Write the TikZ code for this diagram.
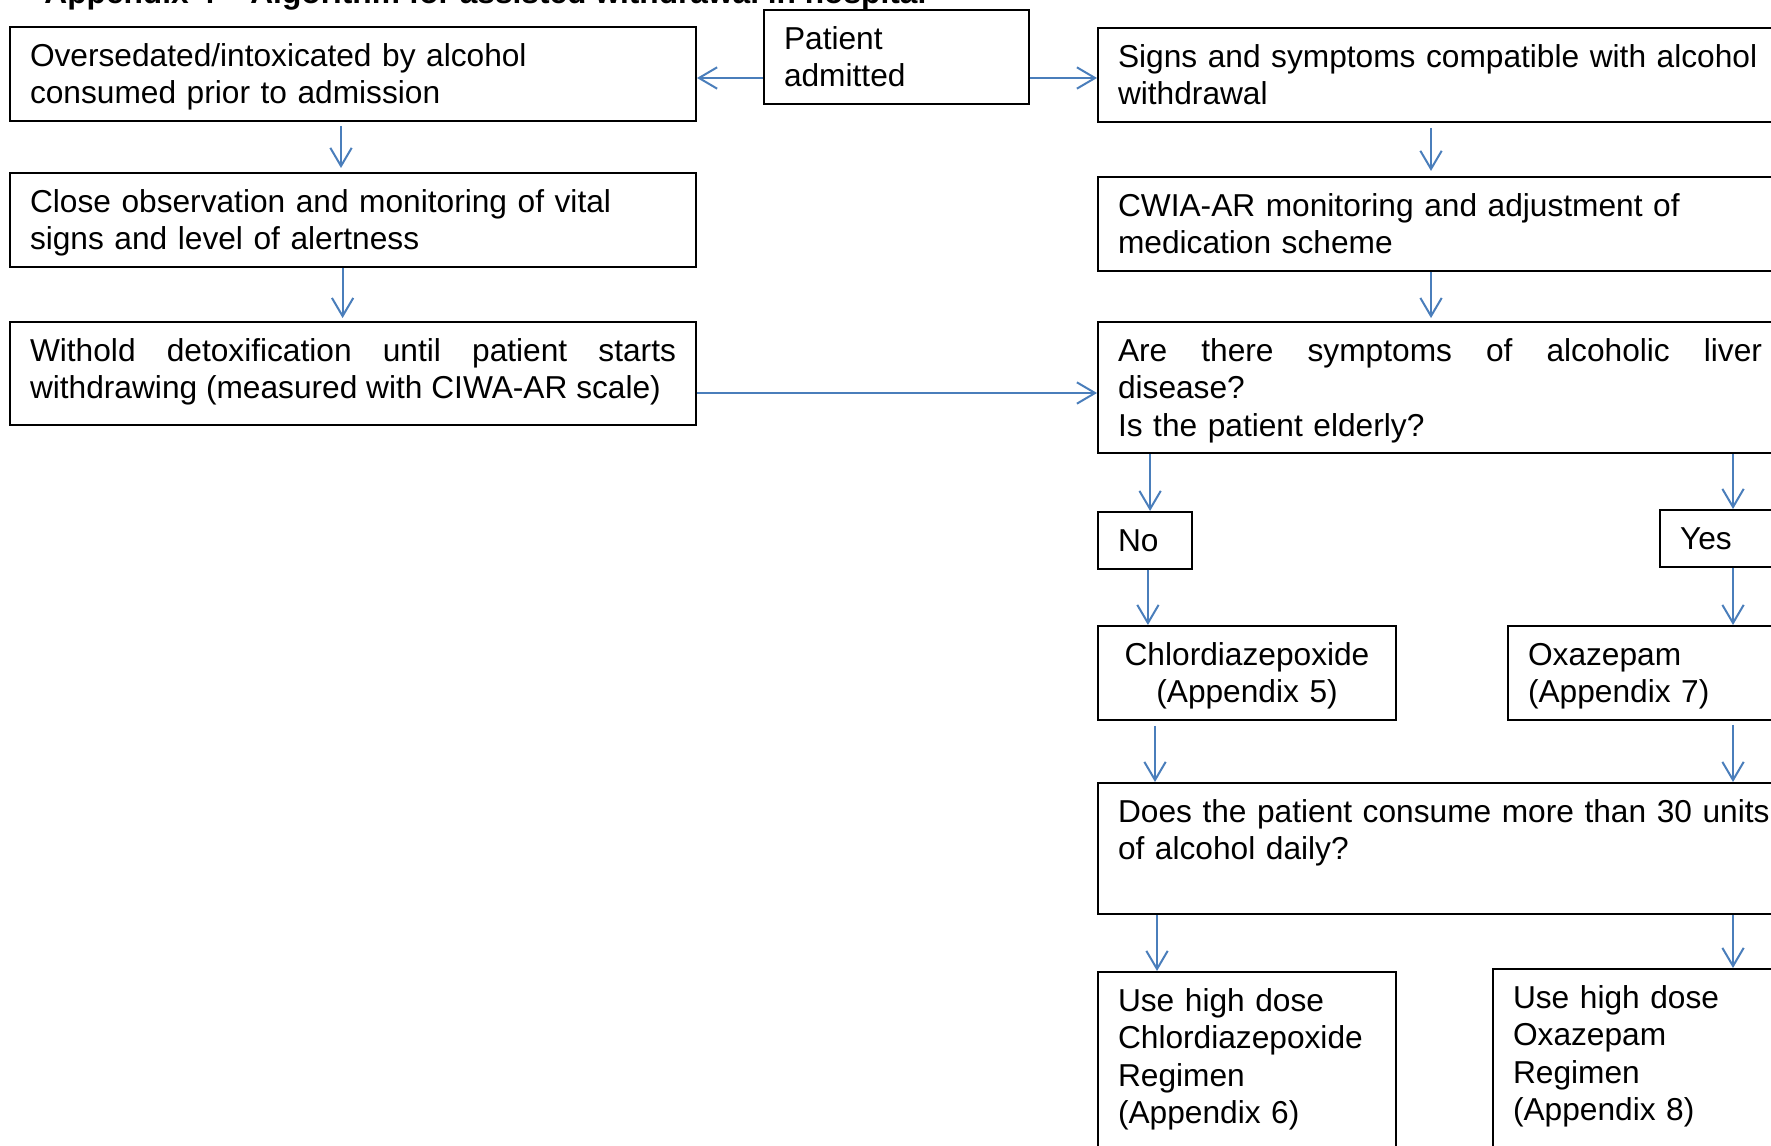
\documentclass[tikz,border=0pt]{standalone}
\usepackage{fontspec}
\setmainfont{Liberation Sans}
\usetikzlibrary{arrows.meta}
\definecolor{flowblue}{RGB}{74,126,187}
\newcommand{\wstrut}{\rule[-2.54pt]{0pt}{13.4pt}}
\hyphenpenalty=10000 \exhyphenpenalty=10000 \tolerance=10000 \hbadness=10000 \hfuzz=50pt
\begin{document}
\begin{tikzpicture}[x=0.375pt, y=-0.375pt,
	box/.style={draw=black, line width=0.75pt, anchor=north west, inner xsep=7.5pt, inner ysep=3.9pt, align=left, text width=242.25pt, font=\fontsize{11.88pt}{14pt}\selectfont, execute at begin node=\wstrut, execute at end node=\wstrut},
	wide/.style={box, text width=244pt},
	narrow/.style={box, text width=96.75pt},
	arr/.style={draw=flowblue, line width=0.75pt, -{Straight Barb[length=6.8pt, width=8pt]}}]
	\useasboundingbox (0,0) rectangle (1771,1146);
	\clip (0,0) rectangle (1771,1146);
	\node[anchor=base west, font=\fontsize{11.88pt}{14pt}\selectfont\bfseries] (title) at (35,3.5) {Appendix 4 -- Algorithm for assisted withdrawal in hospital};
	
	\node[box, text width=84.4pt] (pat) at (763,9) {Patient\\admitted};
	\node[box] (over) at (9,26) {Oversedated/intoxicated by alcohol\\consumed prior to admission};
	\node[box] (close) at (9,172) {Close observation and monitoring of vital\\signs and level of alertness};
	\node[box, align=justify] (wit) at (9,321) {Withold detoxification until patient starts withdrawing (measured with CIWA-AR scale)\rule[-6pt]{0pt}{1pt}};
	
	\node[wide] (sign) at (1097,27) {Signs and symptoms compatible with alcohol\\withdrawal};
	\node[wide] (cwia) at (1097,176) {CWIA-AR monitoring and adjustment of\\medication scheme};
	\node[wide] (are) at (1097,321) {\hbox to 241.5pt{Are\hfill there\hfill symptoms\hfill of\hfill alcoholic\hfill liver}\\disease?\\Is the patient elderly?};
	\node[box, text width=20.25pt] (no) at (1097,511) {No};
	\node[box, text width=35pt] (yes) at (1659,509) {Yes};
	\node[narrow, align=center] (chlor) at (1097,625) {Chlordiazepoxide\\(Appendix 5)};
	\node[narrow] (oxa) at (1507,625) {Oxazepam\\(Appendix 7)};
	\node[wide, text width=262pt] (does) at (1097,782) {Does the patient consume more than 30 units\\of alcohol daily?\\\mbox{}};
	\node[narrow] (usec) at (1097,971) {Use high dose\\Chlordiazepoxide\\Regimen\\(Appendix 6)\\\mbox{}\\\mbox{}};
	\node[narrow] (useo) at (1492,968) {Use high dose\\Oxazepam\\Regimen\\(Appendix 8)\\\mbox{}\\\mbox{}};
	
	\draw[arr] ([yshift=-7.9pt]pat.west) -- ([yshift=-7.9pt]pat.west -| over.east);
	\draw[arr] ([yshift=-7.9pt]pat.east) -- ([yshift=-7.9pt]pat.east -| sign.west);
	\draw[arr, shorten <=1.5pt, shorten >=1.5pt] ([xshift=124.5pt]over.south west) -- ([xshift=124.5pt]over.south west |- close.north);
	\draw[arr, shorten >=1.1pt] ([xshift=125.1pt]close.south west) -- ([xshift=125.1pt]close.south west |- wit.north);
	\draw[arr] ([yshift=-7.3pt]wit.east) -- ([yshift=-7.3pt]wit.east -| are.west);
	\draw[arr, shorten <=1.9pt, shorten >=1.9pt] ([xshift=125.25pt]sign.south west) -- ([xshift=125.25pt]sign.south west |- cwia.north);
	\draw[arr, shorten >=1.1pt] ([xshift=125.25pt]cwia.south west) -- ([xshift=125.25pt]cwia.south west |- are.north);
	\draw[arr] ([xshift=19.9pt]are.south west) -- ([xshift=19.9pt]are.south west |- no.north);
	\draw[arr] ([xshift=238.5pt]are.south west) -- ([xshift=238.5pt]are.south west |- yes.north);
	\draw[arr] ([xshift=19.1pt]no.south west) -- ([xshift=19.1pt]no.south west |- chlor.north);
	\draw[arr] ([xshift=27.75pt]yes.south west) -- ([xshift=27.75pt]yes.south west |- oxa.north);
	\draw[arr, shorten <=1.9pt] ([xshift=21.75pt]chlor.south west) -- ([xshift=21.75pt]chlor.south west |- does.north);
	\draw[arr, shorten <=1.5pt] ([xshift=84.75pt]oxa.south west) -- ([xshift=84.75pt]oxa.south west |- does.north);
	\draw[arr] ([xshift=22.5pt]does.south west) -- ([xshift=22.5pt]does.south west |- usec.north);
	\draw[arr] ([xshift=238.5pt]does.south west) -- ([xshift=238.5pt]does.south west |- useo.north);
\end{tikzpicture}
\end{document}
